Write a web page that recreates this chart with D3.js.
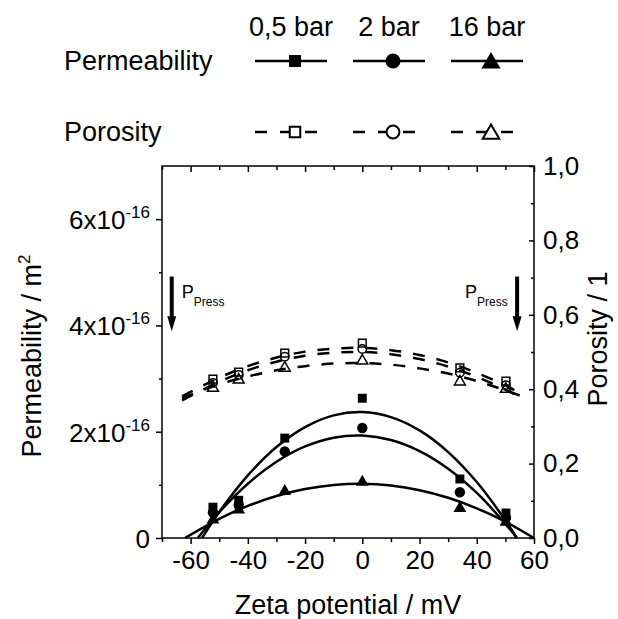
<!DOCTYPE html>
<html>
<head>
<meta charset="utf-8">
<script src="https://cdn.jsdelivr.net/npm/d3@7"></script>
<style>
body{margin:0;background:#fff;}
svg text{font-family:"Liberation Sans",Arial,sans-serif;fill:#000;}
</style>
</head>
<body>
<svg id="chart" width="618" height="619"></svg>
<script>
// measured zeta potentials (mV)
const zeta = [-52.2, -43.2, -27.1, 0, 34.1, 50.2];
const pressures = ['0,5 bar', '2 bar', '16 bar'];

// permeability in units of 1e-16 m^2
const perm05 = [0.58, 0.71, 1.88, 2.63, 1.11, 0.47];
const perm2  = [0.48, 0.62, 1.63, 2.07, 0.86, 0.38];
const perm16 = [0.34, 0.53, 0.88, 1.05, 0.56, 0.30];

// porosity (-)
const por05 = [0.427, 0.446, 0.497, 0.524, 0.457, 0.422];
const por2  = [0.417, 0.438, 0.487, 0.508, 0.444, 0.411];
const por16 = [0.403, 0.425, 0.457, 0.476, 0.420, 0.400];

// fitted permeability curves
const fitZeta05 = [-56, -50, -40, -30, -20, -10, 0, 10, 20, 30, 40, 50, 54];
const fitPerm05 = [0, 0.489, 1.178, 1.711, 2.087, 2.307, 2.369, 2.275, 2.024, 1.617, 1.053, 0.332, 0];
const fitZeta2  = [-57.5, -50, -40, -30, -20, -10, 0, 10, 20, 30, 40, 50, 54];
const fitPerm2  = [0, 0.485, 1.021, 1.434, 1.723, 1.888, 1.928, 1.844, 1.636, 1.304, 0.848, 0.267, 0];
const fitZeta16 = [-62, -50, -40, -30, -20, -10, 0, 10, 20, 30, 40, 50, 60];
const fitPerm16 = [0, 0.362, 0.603, 0.789, 0.921, 0.998, 1.02, 0.987, 0.899, 0.757, 0.559, 0.307, 0];

// fitted porosity curves (dashed)
const fitZetaPor = [-63, -50, -40, -30, -20, -10, 0, 10, 20, 30, 40, 50, 55];
const fitPor05 = [0.381, 0.431, 0.462, 0.485, 0.501, 0.509, 0.511, 0.505, 0.492, 0.472, 0.444, 0.410, 0.390];
const fitPor2  = [0.370, 0.420, 0.451, 0.474, 0.490, 0.498, 0.500, 0.494, 0.481, 0.461, 0.433, 0.399, 0.379];
const fitPor16 = [0.376, 0.413, 0.434, 0.451, 0.462, 0.469, 0.470, 0.466, 0.456, 0.442, 0.422, 0.397, 0.383];

// x-axis ticks and y ticks
const zetaTicks = [-60, -40, -20, 0, 20, 40, 60];
const zetaMinor = [-70, -50, -30, -10, 10, 30, 50];
const permTicks = [0, 2, 4, 6];
const permMinor = [1, 3, 5];
const porTicks = [0, 0.2, 0.4, 0.6, 0.8, 1.0];
const porMinor = [0.1, 0.3, 0.5, 0.7, 0.9];

// pressing direction arrows (zeta, top perm, tip perm) and label zeta
const pressArrowZeta = [-66.6, 54.1];
const pressArrowTop = 4.92, pressArrowTip = 3.89;
const pressLabelZeta = [-63.1, 35.9];
const pressLabelPerm = 4.51;

const svg = d3.select('#chart');
const x = d3.scaleLinear().domain([-70, 60]).range([162, 534]);
const yP = d3.scaleLinear().domain([0, 7]).range([538, 166]);
const yR = d3.scaleLinear().domain([0, 1]).range([538, 166]);
const comma = d => d3.format('.1f')(d).replace('.', ',');

const symbols = [d3.symbolSquare, d3.symbolCircle, d3.symbolTriangle];
const permData = [perm05, perm2, perm16];
const porData = [por05, por2, por16];
const fitsP = [[fitZeta05, fitPerm05], [fitZeta2, fitPerm2], [fitZeta16, fitPerm16]];
const fitsR = [fitPor05, fitPor2, fitPor16];

//axes
function styleAxis(g){
    g.select('.domain').remove();
    g.selectAll('line').attr('stroke', '#000').attr('stroke-width', 1.5);
    g.selectAll('text').attr('font-size', 26).attr('fill', '#000');
}
svg.append('g').attr('transform', 'translate(0,538)')
    .call(d3.axisBottom(x).tickValues(zetaTicks).tickSize(6).tickPadding(7).tickFormat(d => String(d)))
    .call(styleAxis);
svg.append('g').attr('transform', 'translate(0,538)')
    .call(d3.axisBottom(x).tickValues(zetaMinor).tickSize(4).tickFormat(''))
    .call(styleAxis);
svg.append('g').attr('transform', 'translate(0,166)')
    .call(d3.axisTop(x).tickValues(zetaTicks).tickSize(-6).tickFormat(''))
    .call(styleAxis);
svg.append('g').attr('transform', 'translate(0,166)')
    .call(d3.axisTop(x).tickValues(zetaMinor).tickSize(-4).tickFormat(''))
    .call(styleAxis);

const leftAxis = svg.append('g').attr('transform', 'translate(162,0)')
    .call(d3.axisLeft(yP).tickValues(permTicks).tickSize(6).tickPadding(6).tickFormat(''))
    .call(styleAxis);
leftAxis.selectAll('.tick').append('text')
    .attr('x', -12).attr('dy', '0.36em')
    .attr('text-anchor', 'end').attr('font-size', 26)
    .each(function(d){
        const t = d3.select(this);
        if (d === 0){ t.text('0'); return; }
        t.append('tspan').text(d + 'x10');
        t.append('tspan').attr('font-size', 17).attr('dy', -11).text('-16');
    });
svg.append('g').attr('transform', 'translate(162,0)')
    .call(d3.axisLeft(yP).tickValues(permMinor).tickSize(3).tickFormat(''))
    .call(styleAxis);

svg.append('g').attr('transform', 'translate(534,0)')
    .call(d3.axisRight(yR).tickValues(porTicks).tickSize(-5).tickPadding(9).tickFormat(comma))
    .call(styleAxis);
svg.append('g').attr('transform', 'translate(534,0)')
    .call(d3.axisRight(yR).tickValues(porMinor).tickSize(-3).tickFormat(''))
    .call(styleAxis);

// frame
svg.append('rect')
    .attr('x', x(-70)).attr('y', yP(7))
    .attr('width', x(60) - x(-70)).attr('height', yP(0) - yP(7))
    .attr('fill', 'none').attr('stroke', '#000').attr('stroke-width', 1.5);

// axis titles
svg.append('text').attr('x', (x(-70) + x(60)) / 2).attr('y', 614)
    .attr('text-anchor', 'middle').attr('font-size', 27).text('Zeta potential / mV');
const yTitle = svg.append('text').attr('transform', 'translate(41,356) rotate(-90)')
    .attr('text-anchor', 'middle').attr('font-size', 27);
yTitle.append('tspan').text('Permeability / m');
yTitle.append('tspan').attr('font-size', 17).attr('dy', -11).text('2');
svg.append('text').attr('transform', 'translate(607,339) rotate(-90)')
    .attr('text-anchor', 'middle').attr('font-size', 27).text('Porosity / 1');

// fitted curves
const plot = svg.append('g');
const lineP = d3.line().curve(d3.curveCatmullRom);
fitsP.forEach(([zs, ps]) => {
    plot.append('path')
        .attr('d', lineP(zs.map((z, i) => [x(z), yP(ps[i])])))
        .attr('fill', 'none').attr('stroke', '#000').attr('stroke-width', 2.5);
});
fitsR.forEach(ps => {
    plot.append('path')
        .attr('d', lineP(fitZetaPor.map((z, i) => [x(z), yR(ps[i])])))
        .attr('fill', 'none').attr('stroke', '#000').attr('stroke-width', 2.5)
        .attr('stroke-dasharray', '12,12');
});

// markers
const symSizeP = [80, 85, 70];
const symSizeR = [60, 56, 52];
permData.forEach((vals, s) => {
    plot.selectAll(null).data(vals).enter().append('path')
        .attr('transform', (d, i) => `translate(${x(zeta[i])},${yP(d)})`)
        .attr('d', d3.symbol().type(symbols[s]).size(symSizeP[s]))
        .attr('fill', '#000');
});
porData.forEach((vals, s) => {
    plot.selectAll(null).data(vals).enter().append('path')
        .attr('transform', (d, i) => `translate(${x(zeta[i])},${yR(d)})`)
        .attr('d', d3.symbol().type(symbols[s]).size(symSizeR[s]))
        .attr('fill', 'none').attr('stroke', '#000').attr('stroke-width', 1.5);
});

// pressing arrows
pressArrowZeta.forEach((z, i) => {
    const ax = x(z), top = yP(pressArrowTop), tip = yP(pressArrowTip);
    svg.append('line').attr('x1', ax).attr('x2', ax).attr('y1', top).attr('y2', tip - 12)
        .attr('stroke', '#000').attr('stroke-width', 4);
    svg.append('path').attr('d', `M${ax - 4.5},${tip - 15}L${ax + 4.5},${tip - 15}L${ax},${tip}Z`)
        .attr('fill', '#000');
    const t = svg.append('text').attr('x', x(pressLabelZeta[i])).attr('y', yP(pressLabelPerm))
        .attr('font-size', 18);
    t.append('tspan').text('P');
    t.append('tspan').attr('font-size', 12).attr('dy', 8).text('Press');
});

// legend
const legX = [255, 353, 451];
const legend = svg.append('g');
legend.append('text').attr('x', 64).attr('y', 70).attr('font-size', 27).text('Permeability');
legend.append('text').attr('x', 64).attr('y', 141).attr('font-size', 27).text('Porosity');
pressures.forEach((p, i) => {
    const x0 = legX[i];
    legend.append('text').attr('x', x0 + 36).attr('y', 36)
        .attr('text-anchor', 'middle').attr('font-size', 27).text(p);
    legend.append('line').attr('x1', x0).attr('x2', x0 + 72).attr('y1', 61).attr('y2', 61)
        .attr('stroke', '#000').attr('stroke-width', 2.5);
    legend.append('path').attr('transform', `translate(${x0 + 40},${i === 2 ? 63 : 61})`)
        .attr('d', d3.symbol().type(symbols[i]).size([144, 177, 160][i]))
        .attr('fill', '#000');
    legend.append('line').attr('x1', x0).attr('x2', x0 + 72).attr('y1', 132).attr('y2', 132)
        .attr('stroke', '#000').attr('stroke-width', 2.5).attr('stroke-dasharray', '12,13');
    legend.append('path').attr('transform', `translate(${x0 + 40},${i === 2 ? 134 : 132})`)
        .attr('d', d3.symbol().type(symbols[i]).size([110, 130, 120][i]))
        .attr('fill', '#fff').attr('stroke', '#000').attr('stroke-width', 2);
});
</script>
</body>
</html>
